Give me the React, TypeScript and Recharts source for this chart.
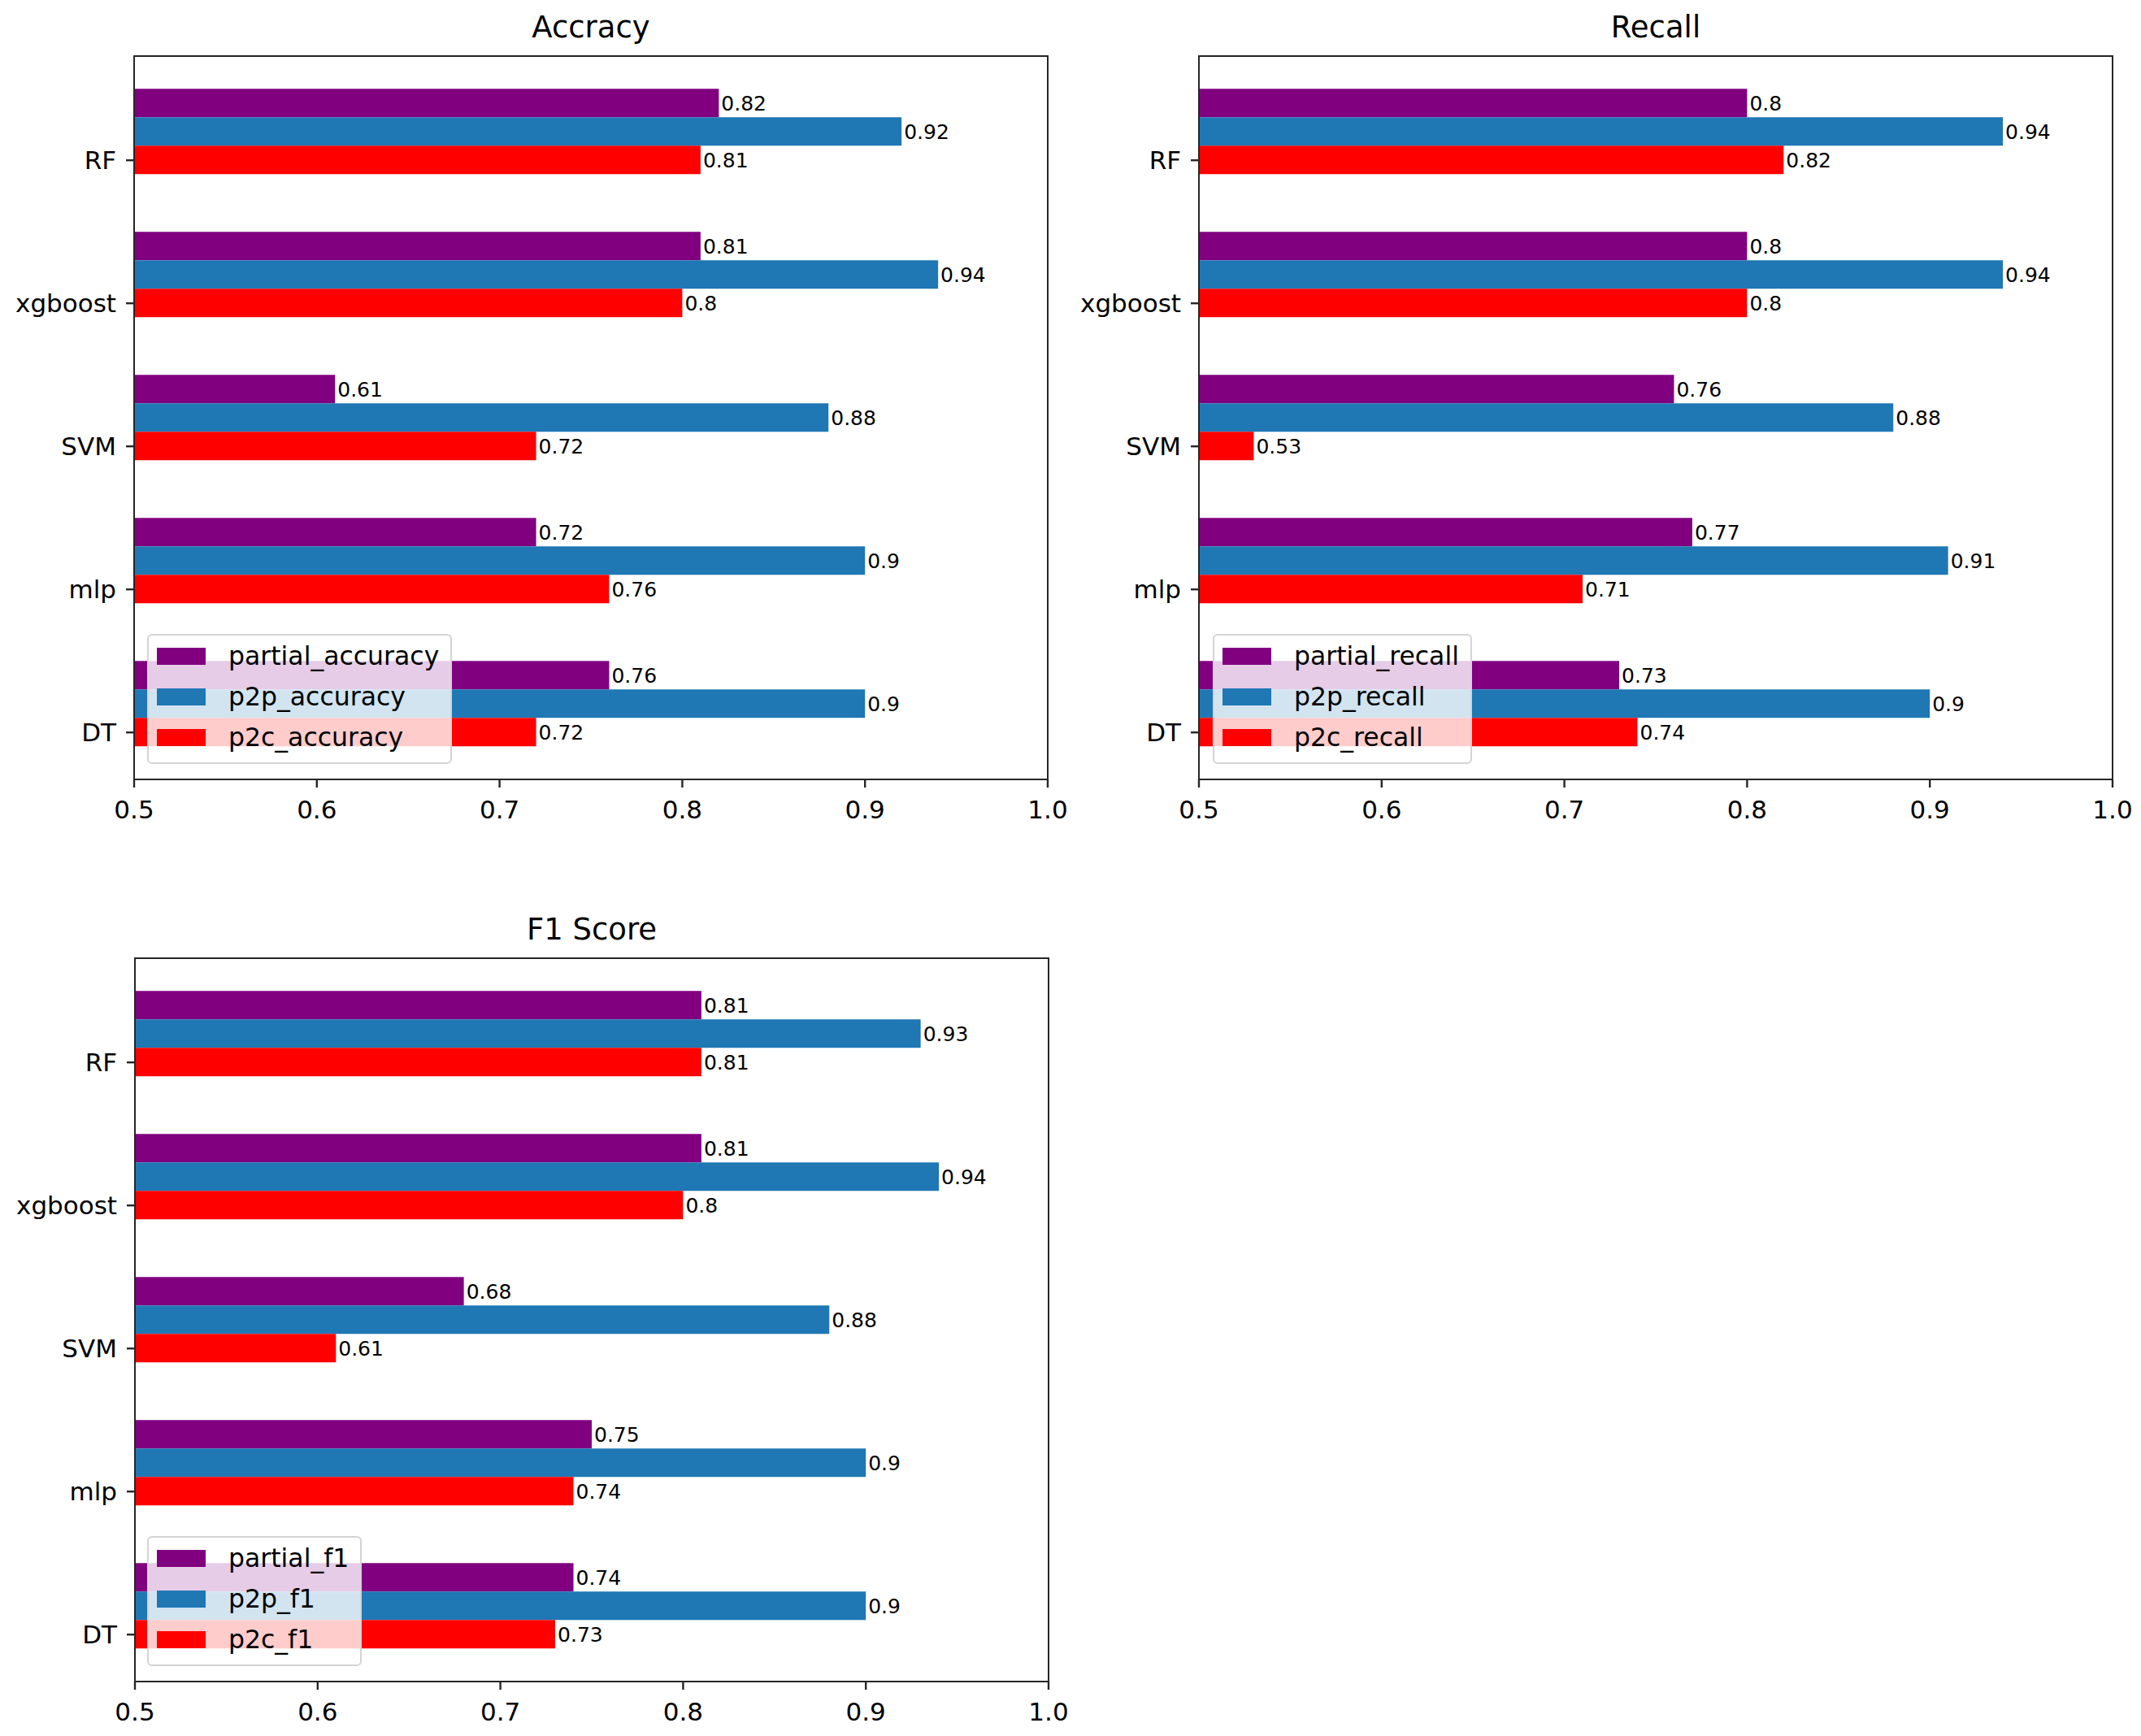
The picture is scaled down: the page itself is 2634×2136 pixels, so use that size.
import React from "react"
import { Bar, BarChart, LabelList, Legend, XAxis, YAxis } from "recharts"

const models = ["RF", "xgboost", "SVM", "mlp", "DT"]

const partialAccuracy = [0.82, 0.81, 0.61, 0.72, 0.76]
const p2pAccuracy = [0.92, 0.94, 0.88, 0.9, 0.9]
const p2cAccuracy = [0.81, 0.8, 0.72, 0.76, 0.72]

const partialRecall = [0.8, 0.8, 0.76, 0.77, 0.73]
const p2pRecall = [0.94, 0.94, 0.88, 0.91, 0.9]
const p2cRecall = [0.82, 0.8, 0.53, 0.71, 0.74]

const partialF1 = [0.81, 0.81, 0.68, 0.75, 0.74]
const p2pF1 = [0.93, 0.94, 0.88, 0.9, 0.9]
const p2cF1 = [0.81, 0.8, 0.61, 0.74, 0.73]

const xTicks = [0.5, 0.6, 0.7, 0.8, 0.9, 1.0]

const PURPLE = "#800080"
const BLUE = "#1f77b4"
const RED = "#ff0000"
const COLORS = [PURPLE, BLUE, RED]
const FONT = "'DejaVu Sans', sans-serif"
const SPINE = "#262626"

// plot box geometry (px inside each chart)
const Y_W = 165
const TOP = 69
const PLOT_H = 890
const PLOT_W = 1124
const X_H = 60
const PAD = 5
const band = (PLOT_H - 2 * PAD) / models.length
const tickShift = band * 0.2

function ModelTick(props: any) {
  const { y, payload } = props
  const ty = y + tickShift
  return (
    <g>
      <line x1={Y_W - 10} x2={Y_W} y1={ty} y2={ty} stroke={SPINE} strokeWidth={2.4} />
      <text x={Y_W - 22} y={ty} dy="0.36em" textAnchor="end" fontSize={31} fill="#000" fontFamily={FONT}>
        {payload.value}
      </text>
    </g>
  )
}

function BoxLegend({ names }: { names: string[] }) {
  return (
    <div
      style={{
        background: "rgba(255,255,255,0.8)",
        border: "2px solid #d4d4d4",
        borderRadius: 6,
        padding: "0 14px 6px 10px",
        fontFamily: FONT,
        fontSize: 31.5,
        color: "#000",
        boxSizing: "border-box",
      }}
    >
      {names.map((n, i) => (
        <div key={n} style={{ height: 50, display: "flex", alignItems: "center", whiteSpace: "nowrap" }}>
          <span style={{ display: "inline-block", width: 60, height: 21, background: COLORS[i], marginRight: 28 }} />
          <span>{n}</span>
        </div>
      ))}
    </div>
  )
}

type PanelProps = {
  title: string
  names: string[]
  partial: number[]
  p2p: number[]
  p2c: number[]
  left: number
  top: number
  width: number
  legendLeft: number
}

function Panel({ title, names, partial, p2p, p2c, left, top, width, legendLeft }: PanelProps) {
  const height = 1026
  const rows = models.map((m, i) => ({ model: m, partial: partial[i], p2p: p2p[i], p2c: p2c[i] }))
  return (
    <div style={{ position: "absolute", left, top, width, height }}>
      <div
        style={{
          position: "absolute",
          left: Y_W,
          width: PLOT_W,
          top: 14,
          textAlign: "center",
          fontFamily: FONT,
          fontSize: 37,
          lineHeight: "40px",
          color: "#000",
        }}
      >
        {title}
      </div>
      <BarChart
        width={width}
        height={height}
        data={rows}
        layout="vertical"
        margin={{ top: TOP, right: width - Y_W - PLOT_W, bottom: height - TOP - PLOT_H - X_H, left: 0 }}
        barCategoryGap="20%"
        barGap={0}
        style={{ fontFamily: FONT }}
      >
        <XAxis
          type="number"
          domain={[0.5, 1]}
          ticks={xTicks}
          allowDataOverflow
          tickFormatter={(v: number) => v.toFixed(1)}
          tick={{ fontSize: 31, fill: "#000" }}
          tickSize={10}
          tickMargin={16}
          height={X_H}
          axisLine={false}
          tickLine={{ stroke: SPINE, strokeWidth: 2.4 }}
        />
        <YAxis
          type="category"
          dataKey="model"
          width={Y_W}
          padding={{ top: PAD, bottom: PAD }}
          tickLine={false}
          tick={(p: any) => <ModelTick {...p} />}
          axisLine={false}
        />
        <Legend
          layout="vertical"
          align="center"
          verticalAlign="middle"
          content={() => <BoxLegend names={names} />}
          wrapperStyle={{ left: legendLeft, top: 780, width: "auto", height: "auto" }}
        />
        <Bar dataKey="partial" name={names[0]} fill={PURPLE} isAnimationActive={false}>
          <LabelList dataKey="partial" position="right" offset={3} fontSize={25} fill="#000" />
        </Bar>
        <Bar dataKey="p2p" name={names[1]} fill={BLUE} isAnimationActive={false}>
          <LabelList dataKey="p2p" position="right" offset={3} fontSize={25} fill="#000" />
        </Bar>
        <Bar dataKey="p2c" name={names[2]} fill={RED} isAnimationActive={false}>
          <LabelList dataKey="p2c" position="right" offset={3} fontSize={25} fill="#000" />
        </Bar>
      </BarChart>
      {/* axes frame (all four spines) */}
      <div
        style={{
          position: "absolute",
          left: Y_W - 1.2,
          top: TOP - 1.2,
          width: PLOT_W + 2.4,
          height: PLOT_H + 2.4,
          border: `2.4px solid ${SPINE}`,
          boxSizing: "border-box",
          pointerEvents: "none",
        }}
      />
    </div>
  )
}

export default function App() {
  return (
    <div
      style={{
        position: "absolute",
        left: 0,
        top: 0,
        width: 2634,
        height: 2136,
        overflow: "hidden",
        background: "#fff",
      }}
    >
      <Panel
        title="Accracy"
        names={["partial_accuracy", "p2p_accuracy", "p2c_accuracy"]}
        partial={partialAccuracy}
        p2p={p2pAccuracy}
        p2c={p2cAccuracy}
        left={0}
        top={0}
        width={1320}
        legendLeft={181}
      />
      <Panel
        title="Recall"
        names={["partial_recall", "p2p_recall", "p2c_recall"]}
        partial={partialRecall}
        p2p={p2pRecall}
        p2c={p2cRecall}
        left={1310}
        top={0}
        width={1324}
        legendLeft={182}
      />
      <Panel
        title="F1 Score"
        names={["partial_f1", "p2p_f1", "p2c_f1"]}
        partial={partialF1}
        p2p={p2pF1}
        p2c={p2cF1}
        left={1}
        top={1110}
        width={1320}
        legendLeft={180}
      />
    </div>
  )
}
